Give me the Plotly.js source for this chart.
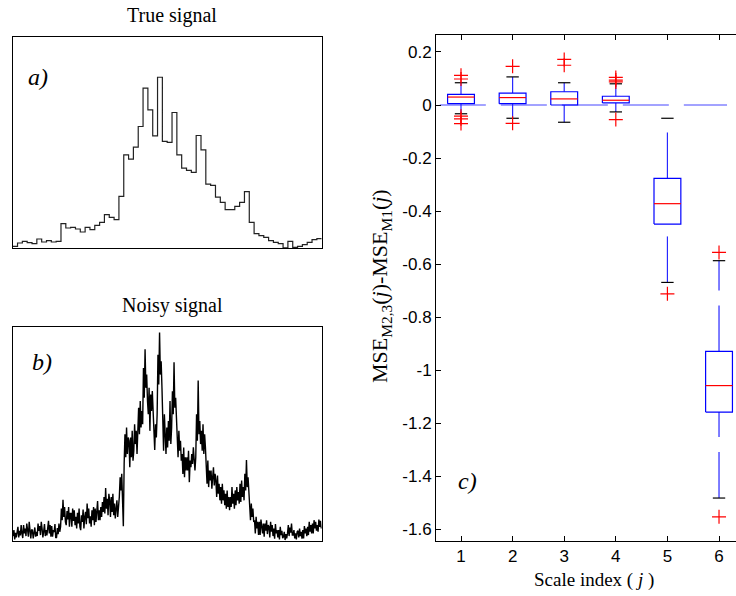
<!DOCTYPE html>
<html>
<head>
<meta charset="utf-8">
<script src="https://cdn.plot.ly/plotly-3.0.1.min.js"></script>
<style>
html,body{margin:0;padding:0;background:#fff;overflow:hidden;}
#chart{width:736px;height:596px;}
</style>
</head>
<body>
<div id="chart"></div>
<script>
// ---------- Panel a: true signal (64 piecewise-constant blocks, arbitrary units) ----------
const trueSignal = [5,15,20,16,13,27,18,22,18,20,73,60,62,57,48,62,55,68,77,100,92,85,155,280,267,303,365,480,415,337,513,320,317,407,280,240,233,227,338,295,192,188,153,137,115,115,125,137,169,77,43,37,32,22,17,13,0,20,2,5,10,17,25,28];

// ---------- Panel b: noisy signal (6 samples per block) ----------
const samplesPerBlock = 6;
const noisySignal = [
12,30,2,22,8,35, 40,8,28,14,45,20, 6,45,20,35,12,50, 25,10,55,18,5,32, 30,5,22,38,10,25,
12,50,28,42,15,55, 35,8,26,48,12,30, 14,38,58,20,45,10, 42,10,30,24,48,6, 8,36,18,50,25,40,
95,60,122,70,100,55, 45,88,62,100,40,80, 80,40,95,58,90,45, 70,35,82,50,95,40, 30,75,55,92,35,70,
85,48,110,66,95,50, 72,40,90,60,100,45, 95,55,80,118,60,90, 60,100,70,115,85,130, 80,157,95,125,75,140,
120,70,130,85,140,75, 110,65,95,120,70,100, 130,190,150,200,140,42, 230,320,250,340,260,310, 300,220,310,250,330,240,
270,350,290,330,260,340, 400,320,420,340,390,350, 520,430,577,460,500,420, 380,460,330,440,390,450, 370,290,272,350,310,380,
560,470,627,500,540,460, 350,270,380,300,260,340, 280,360,300,420,290,340, 450,380,537,400,430,370, 310,250,330,270,300,240,
260,200,280,190,250,210, 250,210,270,175,240,220, 260,230,280,240,210,250, 380,300,482,320,360,290, 330,270,350,260,320,280,
220,170,240,160,210,180, 210,155,190,220,165,200, 180,130,195,140,170,120, 160,110,170,120,150,105, 140,95,150,100,130,90,
130,100,160,110,140,95, 150,105,160,120,145,110, 170,115,180,130,160,120, 200,150,242,160,190,130, 100,60,110,70,95,55,
60,20,70,35,55,15, 55,15,62,40,20,50, 10,50,28,60,18,45, 40,8,55,25,45,12, 35,4,48,20,30,8,
30,2,40,15,28,6, 10,25,0,18,5,20, 45,12,38,22,50,15, 15,30,5,20,2,25, 28,8,35,12,25,4,
30,5,42,20,35,12, 40,15,55,25,45,20, 50,20,60,35,55,28, 45,25,62,40,58,35
];

// ---------- Panel c: box plot statistics per scale index ----------
const scales   = [1, 2, 3, 4, 5, 6];
const q1       = [0.005, 0.005, 0.000, 0.008, -0.449, -1.158];
const medians  = [0.030, 0.028, 0.023, 0.018, -0.372, -1.058];
const q3       = [0.040, 0.045, 0.050, 0.033, -0.277, -0.929];
const lowerAdj = [-0.033, -0.050, -0.065, -0.026, -0.669, -1.482];
const upperAdj = [0.084, 0.106, 0.084, 0.080, -0.050, -0.587];
const outliers = [
  [0.112, 0.098, -0.042, -0.052, -0.070],
  [0.146, -0.069],
  [0.172, 0.150],
  [0.104, 0.094, 0.087, -0.055],
  [-0.712],
  [-0.556, -1.553]
];
const yTickVals = [0.2, 0, -0.2, -0.4, -0.6, -0.8, -1, -1.2, -1.4, -1.6];
const yTickText = ["0.2", "0", "-0.2", "-0.4", "-0.6", "-0.8", "-1", "-1.2", "-1.4", "-1.6"];
const refLineX = [0.59, 6.155];
const refLineY = [0, 0];

// ---------- build traces ----------
const W = 736, H = 596;
const px = v => v / W, py = v => 1 - v / H;
const BW = 0.26, CW = 0.12;
const DASH = "46px,15px";
const traces = [];

// true signal as steps
const tx = trueSignal.map((_, i) => i).concat([trueSignal.length]);
const ty = trueSignal.concat([trueSignal[trueSignal.length - 1]]);
traces.push({x: tx, y: ty, xaxis: 'x2', yaxis: 'y2', type: 'scatter', mode: 'lines',
  line: {shape: 'hv', color: '#222', width: 1.2}, hoverinfo: 'skip', showlegend: false});

// noisy signal
const nx = noisySignal.map((_, i) => (i + 0.5) / samplesPerBlock);
traces.push({x: nx, y: noisySignal, xaxis: 'x3', yaxis: 'y3', type: 'scatter', mode: 'lines',
  line: {color: '#000', width: 1.4}, hoverinfo: 'skip', showlegend: false});

// reference zero line
traces.push({x: refLineX, y: refLineY, type: 'scatter', mode: 'lines',
  line: {color: 'rgb(70,70,255)', width: 1, dash: DASH}, hoverinfo: 'skip', showlegend: false});

scales.forEach((s, i) => {
  traces.push({x: [s, s], y: [lowerAdj[i], q1[i]], type: 'scatter', mode: 'lines',
    line: {color: 'rgb(40,40,255)', width: 1.2, dash: DASH}, hoverinfo: 'skip', showlegend: false});
  traces.push({x: [s, s], y: [q3[i], upperAdj[i]], type: 'scatter', mode: 'lines',
    line: {color: 'rgb(40,40,255)', width: 1.2, dash: DASH}, hoverinfo: 'skip', showlegend: false});
  traces.push({x: [s - CW, s + CW, null, s - CW, s + CW], y: [lowerAdj[i], lowerAdj[i], null, upperAdj[i], upperAdj[i]],
    type: 'scatter', mode: 'lines', line: {color: '#000', width: 1.2}, hoverinfo: 'skip', showlegend: false});
  traces.push({x: [s - BW, s + BW, s + BW, s - BW, s - BW], y: [q1[i], q1[i], q3[i], q3[i], q1[i]],
    type: 'scatter', mode: 'lines', line: {color: 'rgb(0,0,255)', width: 1.2}, hoverinfo: 'skip', showlegend: false});
  traces.push({x: [s - BW, s + BW], y: [medians[i], medians[i]], type: 'scatter', mode: 'lines',
    line: {color: 'rgb(255,0,0)', width: 1.2}, hoverinfo: 'skip', showlegend: false});
  traces.push({x: outliers[i].map(() => s), y: outliers[i], type: 'scatter', mode: 'markers',
    marker: {symbol: 'cross-thin-open', size: 10, color: 'rgb(255,0,0)', line: {color: 'rgb(255,0,0)', width: 1.2}},
    hoverinfo: 'skip', showlegend: false});
});

const serif = 'Liberation Serif, Times New Roman, serif';
const sans = 'Liberation Sans, Arial, sans-serif';
const frameAxis = {showline: true, mirror: true, linecolor: '#000', linewidth: 1, ticks: '', showticklabels: false,
  showgrid: false, zeroline: false, fixedrange: true};

const layout = {
  width: W, height: H,
  margin: {l: 0, r: 0, t: 0, b: 0},
  paper_bgcolor: '#fff', plot_bgcolor: '#fff',
  showlegend: false,
  xaxis: {domain: [px(436), 1], range: [0.5155, 6.329], tickvals: scales, ticktext: scales.map(String),
    ticks: 'inside', ticklen: 5, tickcolor: '#000', showline: true, linecolor: '#000', linewidth: 1, mirror: 'ticks',
    showgrid: false, zeroline: false, tickfont: {family: sans, size: 17, color: '#000'}, anchor: 'y'},
  yaxis: {domain: [py(541), py(35)], range: [-1.644, 0.264], tickvals: yTickVals, ticktext: yTickText,
    ticks: 'inside', ticklen: 5, tickcolor: '#000', showline: true, linecolor: '#000', linewidth: 1, mirror: false,
    showgrid: false, zeroline: false, tickfont: {family: sans, size: 17, color: '#000'}, anchor: 'x'},
  xaxis2: Object.assign({}, frameAxis, {domain: [px(12.7), px(321.7)], range: [0, 64], anchor: 'y2'}),
  yaxis2: Object.assign({}, frameAxis, {domain: [py(248.3), py(37.3)], range: [-1, 633], anchor: 'x2'}),
  xaxis3: Object.assign({}, frameAxis, {domain: [px(12.7), px(321.7)], range: [0, 64], anchor: 'y3'}),
  yaxis3: Object.assign({}, frameAxis, {domain: [py(540.7), py(327.3)], range: [-2, 643], anchor: 'x3'}),
  annotations: [
    {text: 'True signal', x: px(172), y: py(16), xref: 'paper', yref: 'paper', showarrow: false,
      xanchor: 'center', yanchor: 'middle', font: {family: serif, size: 20, color: '#000'}},
    {text: 'Noisy signal', x: px(172), y: py(305), xref: 'paper', yref: 'paper', showarrow: false,
      xanchor: 'center', yanchor: 'middle', font: {family: serif, size: 20, color: '#000'}},
    {text: '<i>a)</i>', x: px(38), y: py(77), xref: 'paper', yref: 'paper', showarrow: false,
      xanchor: 'center', yanchor: 'middle', font: {family: serif, size: 24, color: '#000'}},
    {text: '<i>b)</i>', x: px(42), y: py(362), xref: 'paper', yref: 'paper', showarrow: false,
      xanchor: 'center', yanchor: 'middle', font: {family: serif, size: 24, color: '#000'}},
    {text: '<i>c)</i>', x: px(467), y: py(481), xref: 'paper', yref: 'paper', showarrow: false,
      xanchor: 'center', yanchor: 'middle', font: {family: serif, size: 24, color: '#000'}},
    {text: 'Scale index ( <i>j</i> )', x: px(594), y: py(580), xref: 'paper', yref: 'paper', showarrow: false,
      xanchor: 'center', yanchor: 'middle', font: {family: serif, size: 19, color: '#000'}},
    {text: 'MSE<sub>M2,3</sub>(<i>j</i>)-MSE<sub>M1</sub>(<i>j</i>)', x: px(381), y: py(286), xref: 'paper', yref: 'paper',
      showarrow: false, textangle: -90, xanchor: 'center', yanchor: 'middle', font: {family: serif, size: 22, color: '#000'}}
  ]
};

Plotly.newPlot('chart', traces, layout, {staticPlot: true, displayModeBar: false});
</script>
</body>
</html>
